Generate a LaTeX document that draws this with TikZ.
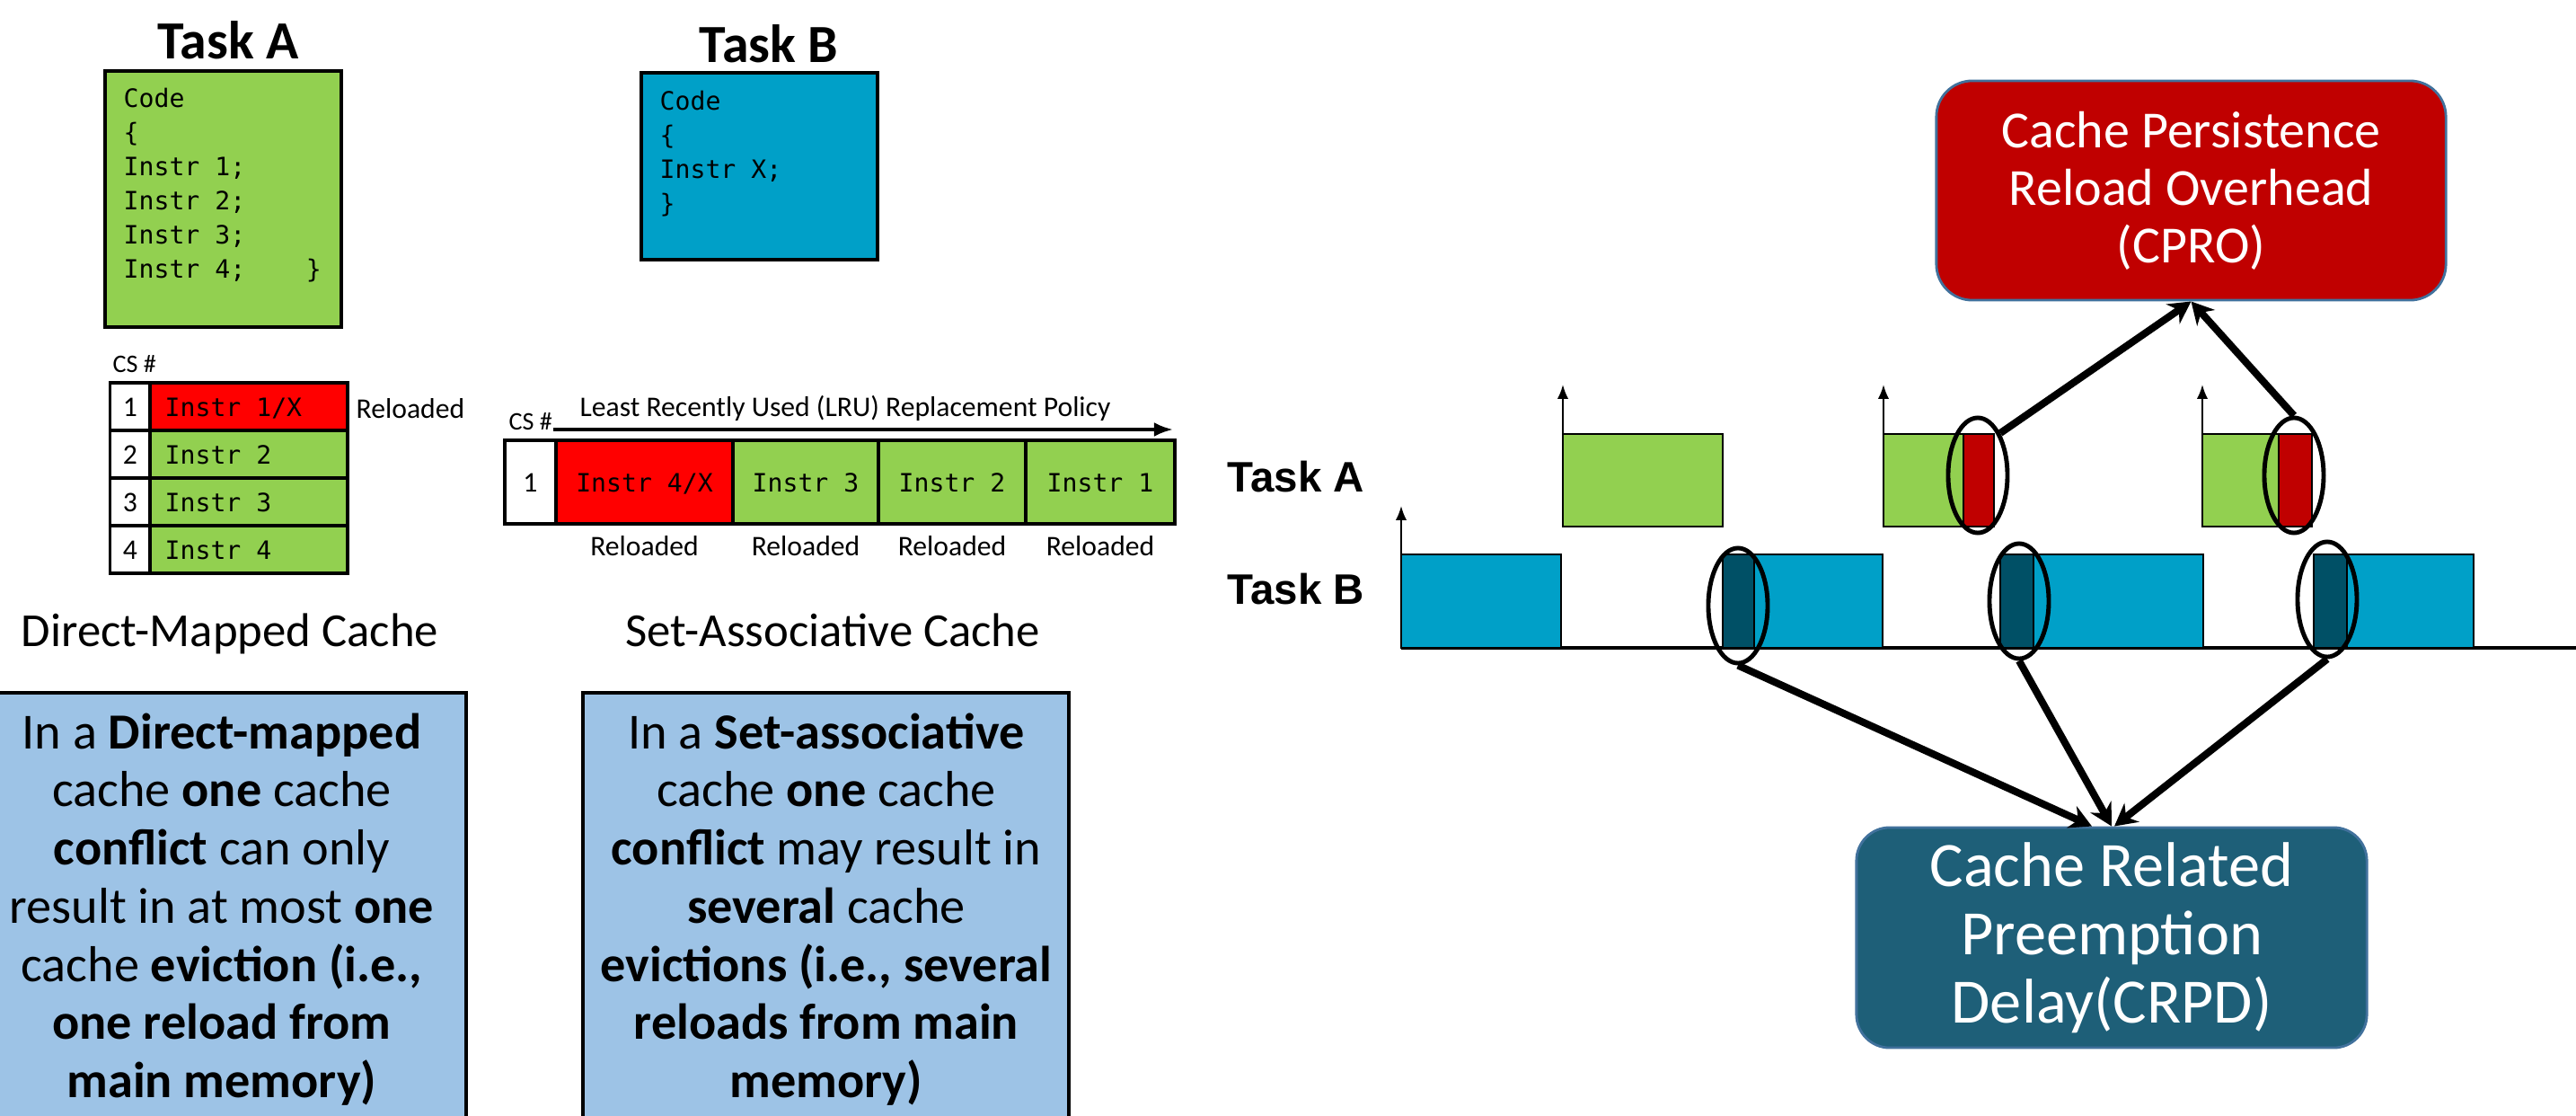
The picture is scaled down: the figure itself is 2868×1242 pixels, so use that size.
\documentclass[tikz,border=0pt]{standalone}
\usepackage{fontspec}
\setmainfont{Carlito}
\newfontfamily\codefont{DejaVu Sans Mono}
\newfontfamily\chartfont{Liberation Sans}
\usetikzlibrary{arrows.meta,positioning,shapes.geometric}
\definecolor{taskgreen}{HTML}{92D050}
\definecolor{taskblue}{HTML}{00A0C8}
\definecolor{darkblue}{HTML}{005066}
\definecolor{evict}{HTML}{FF0000}
\definecolor{reload}{HTML}{C00000}
\definecolor{note}{HTML}{9DC3E6}
\definecolor{crpdcol}{HTML}{1E5F78}
\definecolor{edgeblue}{HTML}{41719C}

\begin{document}
\begin{tikzpicture}[x=0.01cm,y=-0.01cm,
  codetxt/.style={font=\codefont\fontsize{8}{9.6}\selectfont,inner sep=0pt},
  smalltxt/.style={font=\fontsize{9}{10}\selectfont,inner sep=0pt},
  title/.style={font=\bfseries\fontsize{17}{20}\selectfont,inner sep=0pt},
  cell/.style={draw=black,line width=0.9pt},
  slab/.style={draw=black,line width=0.5pt},
  ring/.style={ellipse,draw=black,line width=1.4pt,minimum width=0.66cm,
               minimum height=1.28cm,inner sep=0pt},
  uparrow/.style={-{Latex[length=4.5pt,width=3.5pt]},line width=0.6pt},
  feed/.style={-{Stealth[length=7pt,width=7.5pt]},line width=2.3pt},
  notetxt/.style={align=center,font=\fontsize{16}{18.4}\selectfont}]

  \useasboundingbox (0,0) rectangle (2868,1242);

  % task A source
  \node[title,anchor=base] (titleA) at (254,65) {Task A};
  \filldraw[cell,fill=taskgreen] (117,79) rectangle (380,364);
  \foreach \i/\txt in {0/Code,1/\{,2/Instr 1;,3/Instr 2;,4/Instr 3;,5/Instr 4;~~~~\}}
    \node[codetxt,anchor=base west] (codeA\i) at (137,119+38*\i) {\txt};

  % task B source
  \node[title,anchor=base] (titleB) at (856,69) {Task B};
  \filldraw[cell,fill=taskblue] (714,81) rectangle (977,289);
  \foreach \i/\txt in {0/Code,1/\{,2/Instr X;,3/\}}
    \node[codetxt,anchor=base west] (codeB\i) at (734,122+38*\i) {\txt};

  % direct-mapped cache
  \node[font=\fontsize{8}{9}\selectfont,inner sep=0pt,anchor=base west] (csA) at (125,414) {CS \#};
  \filldraw[cell,fill=evict] (167,426) rectangle (387,479);
  \foreach \r in {2,3,4}
    \filldraw[cell,fill=taskgreen] (167,{426+53*(\r-1)}) rectangle (387,{426+53*\r});
  \foreach \r in {1,...,4}{
    \draw[cell] (122.5,{426+53*(\r-1)}) rectangle (167,{426+53*\r});
    \node[smalltxt,anchor=base] (numA\r) at (145,{463+53*(\r-1)}) {\r};
  }
  \node[codetxt,anchor=base west] (slotA1) at (183,463) {Instr 1/X};
  \foreach \r in {2,3,4}
    \node[codetxt,anchor=base west] (slotA\r) at (183,{463+53*(\r-1)}) {Instr \r};
  \node[smalltxt,anchor=base west] (relA) at (396,465) {Reloaded};
  \node[font=\fontsize{15}{18}\selectfont,inner sep=0pt,anchor=base] (dmc) at (256,719) {Direct-Mapped Cache};

  % set-associative cache
  \node[font=\fontsize{8}{9}\selectfont,inner sep=0pt,anchor=base west] (csB) at (566,478) {CS \#};
  \node[smalltxt,anchor=base] (lru) at (941,463) {Least Recently Used (LRU) Replacement Policy};
  \coordinate (lruEnd) at (1306,478);
  \draw[-{Latex[length=6pt,width=4.5pt]},line width=1pt] (csB.base east) -- (lruEnd);
  \filldraw[cell,fill=white] (562,490) rectangle (619,583);
  \node[smalltxt,anchor=base] (numB) at (590.5,547) {1};
  \filldraw[cell,fill=evict] (619,490) rectangle (816,583);
  \node[codetxt,anchor=base] (wayB4) at (717.5,547) {Instr 4/X};
  \node[smalltxt,anchor=base] (relB4) at (717.5,618) {Reloaded};
  \foreach \a/\b/\k in {816/978/3,978/1142/2,1142/1308/1}{
    \filldraw[cell,fill=taskgreen] (\a,490) rectangle (\b,583);
    \node[codetxt,anchor=base] (wayB\k) at ({(\a+\b)/2},547) {Instr \k};
    \node[smalltxt,anchor=base] (relB\k) at ({(\a+\b)/2},618) {Reloaded};
  }
  \node[font=\fontsize{15}{18}\selectfont,inner sep=0pt,anchor=base] (sac) at (927,719) {Set-Associative Cache};

  % explanations
  \filldraw[cell,fill=note] (-30,771) rectangle (519,1262);
  \node[notetxt] (noteA) at (247,1012)
   {In a \textbf{Direct-mapped}\\cache \textbf{one} cache\\\textbf{conflict} can only\\
    result in at most \textbf{one}\\cache \textbf{eviction (i.e.,}\\\textbf{one reload from}\\
    \textbf{main memory)}};
  \filldraw[cell,fill=note] (649,771) rectangle (1190,1262);
  \node[notetxt] (noteB) at (920,1012)
   {In a \textbf{Set-associative}\\cache \textbf{one} cache\\\textbf{conflict} may result in\\
    \textbf{several} cache\\\textbf{evictions (i.e., several}\\\textbf{reloads from main}\\
    \textbf{memory)}};

  % schedule
  \node[font=\chartfont\bfseries\fontsize{13.5}{16}\selectfont,inner sep=0pt,anchor=base] (rowA) at (1443,547) {Task A};
  \node[font=\chartfont\bfseries\fontsize{13.5}{16}\selectfont,inner sep=0pt,anchor=base] (rowB) at (1443,672) {Task B};
  \draw[line width=0.9pt] (1560,721) -- (2868,721);
  \draw[uparrow] (1560,721) -- (1560,563);
  \foreach \x in {1740,2097,2452}
    \draw[uparrow] (\x,533) -- (\x,428);
  \filldraw[slab,fill=taskgreen] (1740,483) rectangle (1918,586);
  \foreach \a/\b/\c in {2097/2186/2220,2452/2537/2574}{
    \filldraw[slab,fill=taskgreen] (\a,483) rectangle (\b,586);
    \filldraw[slab,fill=reload] (\b,483) rectangle (\c,586);
  }
  \filldraw[slab,fill=taskblue] (1560,617) rectangle (1738,721);
  \foreach \a/\b/\c in {1918/1953/2096,2227/2264/2453,2576/2613/2754}{
    \filldraw[slab,fill=darkblue] (\a,617) rectangle (\b,721);
    \filldraw[slab,fill=taskblue] (\b,617) rectangle (\c,721);
  }
  \node[ring] (ringA1) at (2202,529) {};
  \node[ring] (ringA2) at (2554,529) {};
  \node[ring] (ringB1) at (1935,674) {};
  \node[ring] (ringB2) at (2248,669) {};
  \node[ring] (ringB3) at (2591,667) {};

  % overheads
  \node[draw=edgeblue,fill=reload,line width=0.8pt,rounded corners=0.4cm,
        minimum width=5.67cm,minimum height=2.44cm,align=center,text=white,
        font=\fontsize{16.5}{18.2}\selectfont] (cpro) at (2439.5,212)
   {Cache Persistence\\Reload Overhead\\(CPRO)};
  \node[draw=edgeblue,fill=crpdcol,line width=0.8pt,rounded corners=0.37cm,
        minimum width=5.68cm,minimum height=2.45cm,align=center,text=white,
        font=\fontsize{20}{21.6}\selectfont] (crpd) at (2351,1043.5)
   {Cache Related\\Preemption\\Delay(CRPD)};
  \draw[feed] (ringA1.north east) -- (cpro.south);
  \draw[feed] (ringA2.north) -- (cpro.south);
  \draw[feed] (ringB1.south) -- ([xshift=-0.22cm]crpd.north);
  \draw[feed] (ringB2.south) -- (crpd.north);
  \draw[feed] (ringB3.south) -- ([xshift=0.03cm]crpd.north);
\end{tikzpicture}
\end{document}
